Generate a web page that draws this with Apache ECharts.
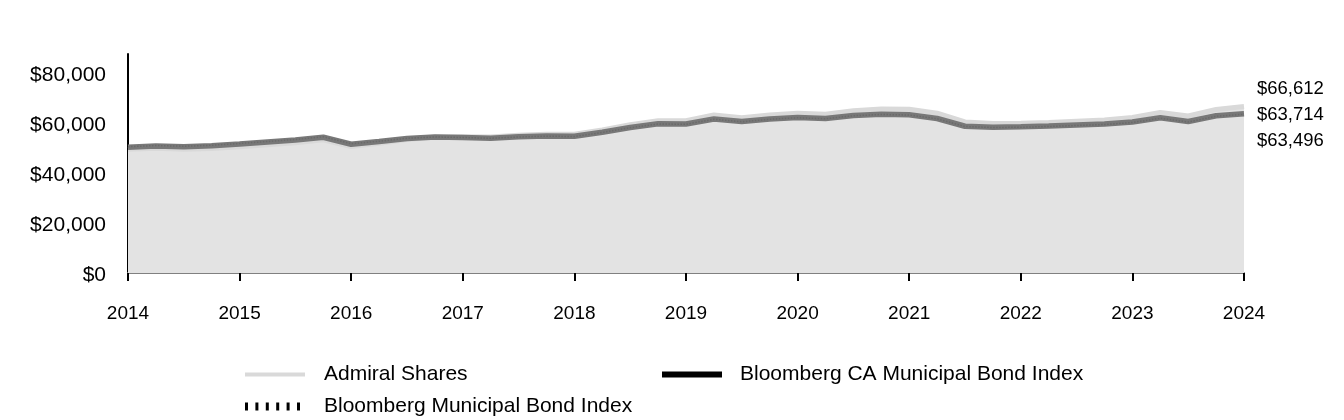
<!DOCTYPE html>
<html>
<head>
<meta charset="utf-8">
<script src="https://cdn.jsdelivr.net/npm/echarts@6/dist/echarts.min.js"></script>
<style>
html,body{margin:0;padding:0;background:#fff;}
#chart{width:1344px;height:420px;}
</style>
</head>
<body>
<div id="chart"></div>
<script>
const categories = [
  '2014-01','2014-04','2014-07','2014-10',
  '2015-01','2015-04','2015-07','2015-10',
  '2016-01','2016-04','2016-07','2016-10',
  '2017-01','2017-04','2017-07','2017-10',
  '2018-01','2018-04','2018-07','2018-10',
  '2019-01','2019-04','2019-07','2019-10',
  '2020-01','2020-04','2020-07','2020-10',
  '2021-01','2021-04','2021-07','2021-10',
  '2022-01','2022-04','2022-07','2022-10',
  '2023-01','2023-04','2023-07','2023-10',
  '2024-01'
];
const admiralShares = [
  49500, 49900, 49500, 49800,
  50500, 51300, 52100, 53300,
  50600, 51900, 53400, 54300,
  54500, 54400, 55100, 55500,
  55500, 57200, 59300, 60900,
  60900, 63200, 62100, 63200,
  63900, 63500, 64900, 65600,
  65500, 63900, 60400, 59800,
  59900, 60200, 60700, 61200,
  62200, 64200, 62800, 65400,
  66612
];
const caMuniIndex = [
  50300, 50800, 50500, 50900,
  51600, 52400, 53200, 54300,
  51500, 52600, 53800, 54400,
  54200, 53900, 54500, 54800,
  54700, 56300, 58200, 59700,
  59600, 61600, 60600, 61600,
  62200, 61800, 63000, 63500,
  63300, 61800, 58700, 58300,
  58500, 58800, 59200, 59600,
  60400, 62100, 60600, 62900,
  63714
];
const muniIndex = [
  50500, 51000, 50700, 51100,
  51800, 52600, 53400, 54500,
  51700, 52700, 53900, 54400,
  54200, 53900, 54400, 54700,
  54600, 56200, 58100, 59600,
  59500, 61500, 60500, 61500,
  62100, 61700, 62900, 63400,
  63200, 61700, 58600, 58200,
  58300, 58600, 59000, 59400,
  60200, 61900, 60400, 62700,
  63496
];
const yTicks = [0, 20000, 40000, 60000, 80000];
const seriesNames = ['Admiral Shares', 'Bloomberg CA Municipal Bond Index', 'Bloomberg Municipal Bond Index'];

const FONT = 'Liberation Sans, Arial, sans-serif';
const money = v => '$' + Math.round(v).toLocaleString('en-US');
const isYear = v => v.slice(5) === '01';

const chart = echarts.init(document.getElementById('chart'), null, {renderer: 'canvas'});
const dotted = 'path://M0,0h3v8h-3zM10.4,0h3v8h-3zM20.8,0h3v8h-3zM31.2,0h3v8h-3zM41.6,0h3v8h-3zM52,0h3v8h-3z';

chart.setOption({
  animation: false,
  grid: {left: 128, right: 100, top: 54, bottom: 147, containLabel: false},
  xAxis: {
    type: 'category',
    data: categories,
    boundaryGap: false,
    axisLine: {show: true, lineStyle: {color: '#808080', width: 2}},
    axisTick: {show: true, length: 8, lineStyle: {color: '#000', width: 2},
      interval: (i, v) => isYear(v)},
    axisLabel: {show: true, margin: 31, color: '#000', fontSize: 19, fontFamily: FONT,
      interval: (i, v) => isYear(v),
      formatter: v => v.slice(0, 4)},
    splitLine: {show: false}
  },
  yAxis: {
    type: 'value',
    min: yTicks[0], max: 87600, interval: 20000,
    axisLine: {show: true, lineStyle: {color: '#000', width: 2}},
    axisTick: {show: false},
    splitLine: {show: false},
    axisLabel: {margin: 22,
      showMaxLabel: false,
      formatter: v => (yTicks.indexOf(v) >= 0 ? '{t|' + money(v) + '}' : ''),
      rich: {t: {color: '#000', fontSize: 21, fontFamily: FONT, padding: [4, 0, 0, 0]}}}
  },
  legend: [
    {left: 245, top: 364, padding: 0, selectedMode: false, itemWidth: 60, itemHeight: 4,
      textStyle: {color: '#000', fontSize: 21, fontFamily: FONT, padding: [0, 0, 0, 14]},
      data: [{name: seriesNames[0], icon: 'rect', itemStyle: {color: '#d9d9d9', borderWidth: 0}}]},
    {left: 662, top: 364, padding: 0, selectedMode: false, itemWidth: 60, itemHeight: 6,
      textStyle: {color: '#000', fontSize: 21, fontFamily: FONT, padding: [0, 0, 0, 13]},
      data: [{name: seriesNames[1], icon: 'rect', itemStyle: {color: '#000', borderWidth: 0}}]},
    {left: 245, top: 396, padding: 0, selectedMode: false, itemWidth: 55, itemHeight: 8,
      textStyle: {color: '#000', fontSize: 21, fontFamily: FONT, padding: [0, 0, 0, 19]},
      data: [{name: seriesNames[2], icon: dotted, itemStyle: {color: '#000', borderWidth: 0}}]}
  ],
  series: [
    {
      name: seriesNames[0], type: 'line', data: admiralShares, symbol: 'none', z: 2,
      lineStyle: {color: '#d9d9d9', width: 5},
      itemStyle: {color: '#d9d9d9'},
      areaStyle: {color: '#e3e3e3', opacity: 1},
      endLabel: {show: true, formatter: p => money(p.value), color: '#000', fontSize: 18.5,
        fontFamily: FONT, distance: 13, offset: [0, -18]}
    },
    {
      name: seriesNames[1], type: 'line', data: caMuniIndex, symbol: 'none', z: 3,
      lineStyle: {color: '#787878', width: 5.5},
      itemStyle: {color: '#787878'},
      endLabel: {show: true, formatter: p => money(p.value), color: '#000', fontSize: 18.5,
        fontFamily: FONT, distance: 13, offset: [0, 1]}
    },
    {
      name: seriesNames[2], type: 'line', data: muniIndex, symbol: 'none', z: 4,
      lineStyle: {color: '#6a6a6a', width: 1.5, type: 'dotted'},
      itemStyle: {color: '#6a6a6a'},
      endLabel: {show: true, formatter: p => money(p.value), color: '#000', fontSize: 18.5,
        fontFamily: FONT, distance: 13, offset: [0, 27]}
    }
  ]
});
</script>
</body>
</html>
